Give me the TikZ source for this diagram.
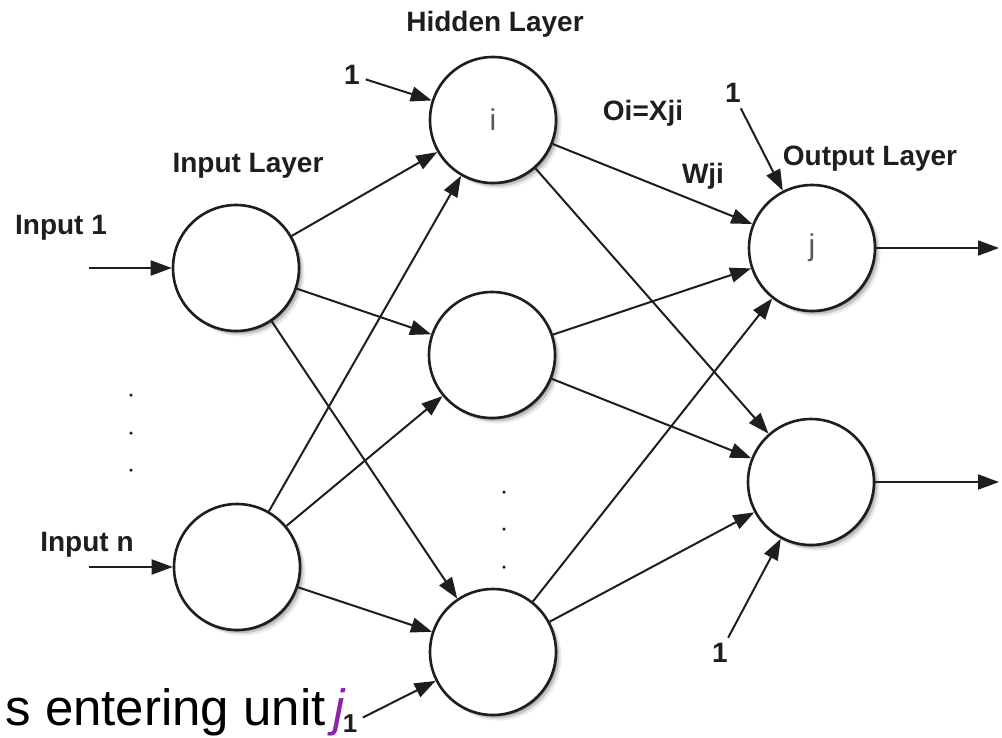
\documentclass[tikz,border=0pt]{standalone}
\usepackage{fontspec}
\setmainfont{Liberation Sans}
\usetikzlibrary{arrows.meta,shadows}
\definecolor{unitpurple}{RGB}{142,36,170}
\definecolor{ink}{RGB}{30,30,30}
\begin{document}
\begin{tikzpicture}[x=1pt,y=-1pt,
  unit/.style={circle,draw=ink,line width=2.6pt,fill=white,minimum size=126pt,inner sep=0pt,
    font=\fontsize{30}{32}\selectfont,text=black!65,
    drop shadow={shadow xshift=1.5pt,shadow yshift=-1.5pt,opacity=.30,fill=black},
    drop shadow={shadow xshift=3.5pt,shadow yshift=-3.5pt,opacity=.16,fill=black},
    drop shadow={shadow xshift=5.5pt,shadow yshift=-5.5pt,opacity=.08,fill=black}},
  lbl/.style={font=\bfseries\fontsize{28}{30}\selectfont,text=ink,inner sep=1pt},
  arr/.style={draw=ink,line width=2pt,-{Triangle[length=21pt,width=15pt]}},
  bias/.style={arr,shorten <=5pt},
  dot/.style={circle,fill=ink,inner sep=0pt,minimum size=3.5pt}]
\useasboundingbox (0,0) rectangle (1002,737);

% layer titles
\node[lbl] (hl) at (495,24) {Hidden Layer};
\node[lbl] (il) at (248,166) {Input Layer};
\node[lbl] (ol) at (870,159) {Output Layer};

% units
\node[unit] (in1) at (236,268) {};
\node[unit] (inn) at (237,567) {};
\node[unit] (h1) at (493,120) {i};
\node[unit] (h2) at (492,355) {};
\node[unit] (h3) at (493,652) {};
\node[unit] (o1) at (812,248) {j};
\node[unit] (o2) at (811,482) {};

% ellipsis dots
\foreach \yy [count=\k] in {395,433,470} \node[dot] (di\k) at (131,\yy) {};
\foreach \yy [count=\k] in {492,529,567} \node[dot] (dh\k) at (504,\yy) {};

% inputs
\node[lbl] (t1) at (61,228) {Input 1};
\node[lbl] (tn) at (87,545) {Input n};
\coordinate (x1) at (89,268);
\coordinate (xn) at (89,567);
\draw[arr] (x1) -- (in1);
\draw[arr] (xn) -- (inn);

% input -> hidden
\draw[arr] (in1) -- (h1);
\draw[arr] (in1) -- (h2);
\draw[arr] (in1) -- (h3);
\draw[arr] (inn) -- (h1);
\draw[arr] (inn) -- (h2);
\draw[arr] (inn) -- (h3);

% hidden -> output
\draw[arr] (h1) -- (o1);
\draw[arr] (h1) -- (o2);
\draw[arr] (h2) -- (o1);
\draw[arr] (h2) -- (o2);
\draw[arr] (h3) -- (o1);
\draw[arr] (h3) -- (o2);

% outputs
\coordinate (y1) at (999,248);
\coordinate (y2) at (999,482);
\draw[arr] (o1) -- (y1);
\draw[arr] (o2) -- (y2);

% weight labels
\node[lbl] (wo) at (643,113) {Oi=Xji};
\node[lbl] (wj) at (703,176) {Wji};

% bias inputs
\node[lbl] (bh1) at (352,75) {1};
\node[lbl] (bo1) at (733,93) {1};
\node[lbl] (bo2) at (720,653) {1};
\node[lbl,font=\bfseries\fontsize{26}{28}\selectfont] (bh3) at (350,724) {1};
\draw[bias] (bh1) -- (h1);
\draw[bias] (bo1) -- (o1);
\draw[bias] (bo2) -- (o2);
\draw[bias] (bh3) -- (h3);

% caption text
\node[anchor=base east,inner sep=0pt,font=\fontsize{51}{54}\selectfont] (cap) at (326,725) {s entering unit};
\node[anchor=base west,inner sep=0pt,font=\itshape\fontsize{51}{54}\selectfont,text=unitpurple] (capj) at (333,725) {j};
\end{tikzpicture}
\end{document}
